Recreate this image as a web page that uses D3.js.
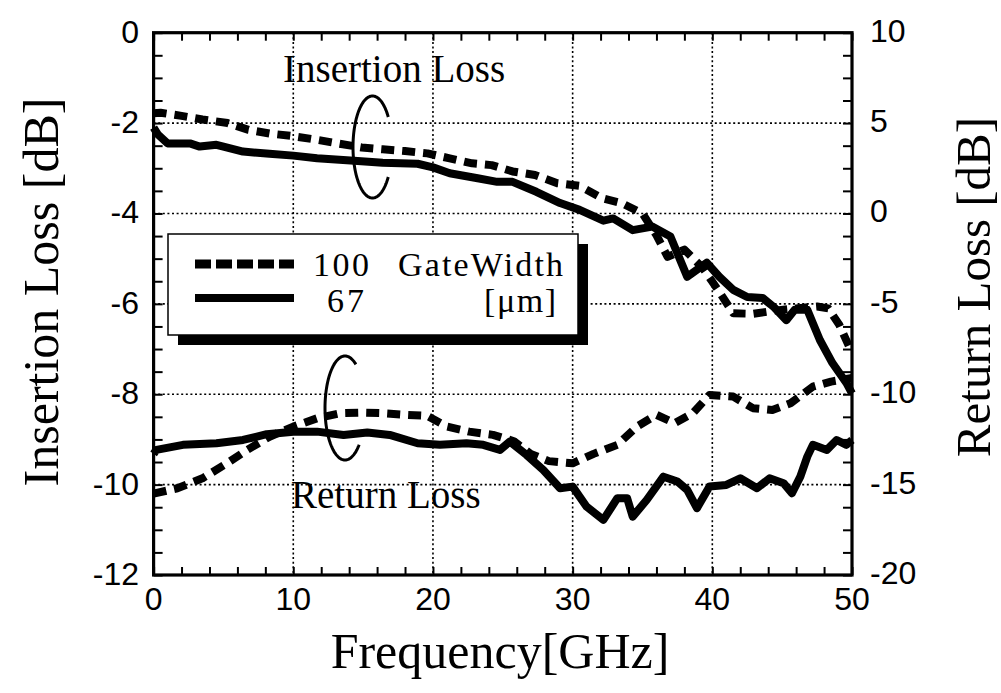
<!DOCTYPE html>
<html>
<head>
<meta charset="utf-8">
<script src="https://cdn.jsdelivr.net/npm/d3@7"></script>
<style>
  html, body { margin: 0; padding: 0; background: #fff; }
  svg { display: block; }
  .serif { font-family: "Liberation Serif", "Times New Roman", serif; }
  .sans { font-family: "Liberation Sans", Arial, Helvetica, sans-serif; }
</style>
</head>
<body>
<svg id="chart" width="1001" height="693"></svg>
<script>
// ---- Data (frequency in GHz, loss in dB) ----
const xTicks = [0, 10, 20, 30, 40, 50];
const yLeftTicks = [0, -2, -4, -6, -8, -10, -12];
const yRightTicks = [10, 5, 0, -5, -10, -15, -20];
const gateWidths = ["100", "67"];

// Insertion loss, gate width 100 µm (left axis)
const il100Freq = [0, 0.5, 2.0, 3.5, 5.3, 6.8, 8.3, 10.0, 11.7, 13.2, 14.9, 16.4, 18.0, 19.6, 21.2, 22.8, 24.2, 25.7, 27.3, 28.9, 30.5, 32.1, 33.5, 35.0, 36.0, 36.8, 38.0, 39.3, 40.4, 41.5, 42.9, 44.5, 46.0, 47.5, 48.3, 49.1, 49.9, 50.0];
const il100 = [-1.78, -1.77, -1.84, -1.92, -2.0, -2.15, -2.23, -2.29, -2.37, -2.45, -2.54, -2.58, -2.62, -2.67, -2.78, -2.89, -2.93, -3.07, -3.15, -3.33, -3.39, -3.66, -3.77, -4.0, -4.48, -4.96, -4.8, -5.2, -5.69, -6.21, -6.22, -6.15, -6.1, -6.06, -6.1, -6.47, -7.02, -7.05];

// Insertion loss, gate width 67 µm (left axis)
const il67Freq = [0, 0.3, 1.0, 2.6, 3.3, 4.5, 5.0, 6.4, 8.3, 10.0, 11.7, 14.1, 16.4, 18.9, 20.0, 21.2, 23.2, 24.6, 25.7, 27.4, 29.1, 30.5, 32.2, 32.9, 34.3, 35.7, 37.0, 38.2, 39.6, 40.5, 41.5, 42.5, 43.6, 44.4, 45.3, 45.9, 46.8, 47.2, 47.7, 48.6, 49.6, 50.0];
const il67 = [-2.1, -2.25, -2.45, -2.45, -2.52, -2.48, -2.52, -2.63, -2.68, -2.72, -2.78, -2.83, -2.88, -2.9, -2.98, -3.11, -3.22, -3.3, -3.3, -3.52, -3.77, -3.92, -4.16, -4.11, -4.37, -4.29, -4.51, -5.4, -5.09, -5.4, -5.69, -5.85, -5.87, -6.07, -6.36, -6.13, -6.13, -6.43, -6.8, -7.31, -7.75, -7.98];

// Return loss, gate width 100 µm (right axis)
const rl100Freq = [0, 1.7, 3.5, 5.3, 6.7, 8.3, 10.0, 11.7, 13.4, 15.0, 16.4, 18.1, 19.6, 21.0, 22.6, 24.3, 25.8, 27.0, 28.3, 30.0, 31.5, 33.2, 34.6, 36.0, 37.3, 38.6, 39.8, 41.5, 42.9, 44.3, 45.6, 47.2, 48.5, 50.0];
const rl100 = [-15.5, -15.2, -14.65, -13.8, -13.08, -12.35, -11.79, -11.33, -11.05, -11.02, -11.05, -11.14, -11.2, -11.79, -12.07, -12.25, -12.6, -13.3, -13.7, -13.82, -13.3, -12.8, -11.79, -11.14, -11.6, -11.05, -10.04, -10.13, -10.77, -10.87, -10.5, -9.58, -9.3, -9.1];

// Return loss, gate width 67 µm (right axis)
const rl67Freq = [0, 0.2, 2.1, 4.5, 6.4, 8.1, 10.0, 11.7, 13.6, 15.3, 16.9, 18.9, 20.5, 22.4, 23.6, 24.8, 25.5, 26.7, 27.9, 29.1, 30.0, 31.0, 32.2, 33.2, 33.9, 34.3, 35.3, 36.5, 37.5, 38.2, 38.9, 39.8, 41.0, 42.0, 43.2, 44.1, 45.1, 45.7, 46.3, 46.8, 47.2, 48.2, 48.9, 49.6, 50.0];
const rl67 = [-13.3, -13.08, -12.8, -12.71, -12.53, -12.21, -12.07, -12.07, -12.25, -12.12, -12.25, -12.71, -12.8, -12.71, -12.8, -13.08, -12.62, -13.36, -14.19, -15.2, -15.11, -16.22, -16.95, -15.75, -15.75, -16.77, -15.85, -14.56, -14.83, -15.29, -16.3, -15.11, -15.02, -14.65, -15.2, -14.65, -14.92, -15.48, -14.56, -13.45, -12.8, -13.08, -12.53, -12.8, -12.53];

// ---- Layout ----
const svg = d3.select("#chart");
const plotL = 153.6, plotR = 852, plotT = 32.7, plotB = 575;

const x = d3.scaleLinear().domain([0, 50]).range([plotL, plotR]);
const yL = d3.scaleLinear().domain([-12, 0]).range([plotB, plotT]);
const yR = d3.scaleLinear().domain([-20, 10]).range([plotB, plotT]);

// Dotted grid
const grid = svg.append("g").attr("stroke", "#000").attr("stroke-width", 1.6)
  .attr("stroke-dasharray", "2,2.6");
grid.selectAll("line.gx").data(xTicks.slice(1, -1)).join("line").attr("class", "gx")
  .attr("x1", d => x(d)).attr("x2", d => x(d)).attr("y1", plotT).attr("y2", plotB);
grid.selectAll("line.gy").data(yLeftTicks.slice(1, -1)).join("line").attr("class", "gy")
  .attr("y1", d => yL(d)).attr("y2", d => yL(d)).attr("x1", plotL).attr("x2", plotR);

// Inward ticks via d3 axes
function styleAxis(g) {
  g.select(".domain").remove();
  g.selectAll(".tick line").attr("stroke", "#000").attr("stroke-width", 2);
}
const minorX = d3.range(0, 50.01, 2);
const minorYL = d3.range(-12, 0.01, 0.5);
const minorYR = d3.range(-20, 10.01, 1.25);

svg.append("g").attr("transform", `translate(0,${plotB})`)
  .call(d3.axisBottom(x).tickValues(minorX).tickSize(-8).tickFormat(""))
  .call(styleAxis);
svg.append("g").attr("transform", `translate(0,${plotT})`)
  .call(d3.axisTop(x).tickValues(minorX).tickSize(-8).tickFormat(""))
  .call(styleAxis);
svg.append("g").attr("transform", `translate(${plotL},0)`)
  .call(d3.axisLeft(yL).tickValues(minorYL).tickSize(-9).tickFormat(""))
  .call(styleAxis);
svg.append("g").attr("transform", `translate(${plotR},0)`)
  .call(d3.axisRight(yR).tickValues(minorYR).tickSize(-9).tickFormat(""))
  .call(styleAxis);

// Tick labels
const tickFont = 32;
svg.append("g").attr("class", "sans").attr("font-size", tickFont)
  .selectAll("text").data(xTicks).join("text")
  .attr("x", d => x(d)).attr("y", 610).attr("text-anchor", "middle").text(d => d);
svg.append("g").attr("class", "sans").attr("font-size", tickFont)
  .selectAll("text").data(yLeftTicks).join("text")
  .attr("x", 139).attr("y", d => yL(d) + 10).attr("text-anchor", "end").text(d => d);
svg.append("g").attr("class", "sans").attr("font-size", tickFont)
  .selectAll("text").data(yRightTicks).join("text")
  .attr("x", 870).attr("y", d => yR(d) + 9).attr("text-anchor", "start").text(d => d);

// Axis titles
svg.append("text").attr("class", "serif").attr("font-size", 50)
  .attr("x", 500).attr("y", 668).attr("text-anchor", "middle").text("Frequency[GHz]");
svg.append("text").attr("class", "serif").attr("font-size", 50)
  .attr("transform", "translate(58,292) rotate(-90)").attr("text-anchor", "middle")
  .text("Insertion Loss [dB]");
svg.append("text").attr("class", "serif").attr("font-size", 49)
  .attr("transform", "translate(990,287) rotate(-90)").attr("text-anchor", "middle")
  .text("Return Loss [dB]");

// Curves
const lineL = d3.line().x(d => x(d[0])).y(d => yL(d[1]));
const lineR = d3.line().x(d => x(d[0])).y(d => yR(d[1]));
const zip = (a, b) => a.map((v, i) => [v, b[i]]);

const curves = svg.append("g").attr("fill", "none").attr("stroke", "#000")
  .attr("stroke-linejoin", "round");
curves.append("path").attr("d", lineL(zip(il67Freq, il67))).attr("stroke-width", 8);
curves.append("path").attr("d", lineR(zip(rl67Freq, rl67))).attr("stroke-width", 8);
curves.append("path").attr("d", lineL(zip(il100Freq, il100))).attr("stroke-width", 8)
  .attr("stroke-dasharray", "13,8");
curves.append("path").attr("d", lineR(zip(rl100Freq, rl100))).attr("stroke-width", 8)
  .attr("stroke-dasharray", "13,8");

// Frame
svg.append("rect").attr("x", plotL).attr("y", plotT)
  .attr("width", plotR - plotL).attr("height", plotB - plotT)
  .attr("fill", "none").attr("stroke", "#000").attr("stroke-width", 3.2);

// Bracket marks grouping each pair of curves (arc open to the right)
function bracket(cx, cy, rx, ry, a0, a1) {
  const pts = d3.range(a0, a1 + 0.001, 2).map(a => {
    const t = a * Math.PI / 180;
    return [cx + rx * Math.cos(t), cy + ry * Math.sin(t)];
  });
  svg.append("path").attr("d", d3.line()(pts)).attr("fill", "none")
    .attr("stroke", "#000").attr("stroke-width", 3);
}
bracket(372.5, 147, 19.5, 51, 36, 324);
bracket(345, 408, 20, 52, 45, 304);

// Curve-group annotations
svg.append("text").attr("class", "serif").attr("font-size", 39)
  .attr("x", 283).attr("y", 82).text("Insertion Loss");
svg.append("text").attr("class", "serif").attr("font-size", 39)
  .attr("x", 291).attr("y", 508).text("Return Loss");

// Legend box with drop shadow
const lg = svg.append("g");
lg.append("rect").attr("x", 178).attr("y", 244).attr("width", 410).attr("height", 101)
  .attr("fill", "#000");
lg.append("rect").attr("x", 168).attr("y", 234).attr("width", 410).attr("height", 101)
  .attr("fill", "#fff").attr("stroke", "#000").attr("stroke-width", 1.5);
lg.append("line").attr("x1", 195).attr("x2", 294).attr("y1", 264).attr("y2", 264)
  .attr("stroke", "#000").attr("stroke-width", 9).attr("stroke-dasharray", "16,5");
lg.append("line").attr("x1", 195).attr("x2", 294).attr("y1", 298).attr("y2", 298)
  .attr("stroke", "#000").attr("stroke-width", 8);
lg.append("text").attr("class", "serif").attr("font-size", 34)
  .attr("x", 313).attr("y", 276).attr("textLength", 56).text(gateWidths[0]);
lg.append("text").attr("class", "serif").attr("font-size", 34)
  .attr("x", 327).attr("y", 312).attr("textLength", 37).text(gateWidths[1]);
lg.append("text").attr("class", "serif").attr("font-size", 34)
  .attr("x", 398).attr("y", 276).attr("textLength", 165).text("GateWidth");
lg.append("text").attr("class", "serif").attr("font-size", 34)
  .attr("x", 556).attr("y", 312).attr("text-anchor", "end").attr("textLength", 72).text("[μm]");
</script>
</body>
</html>
